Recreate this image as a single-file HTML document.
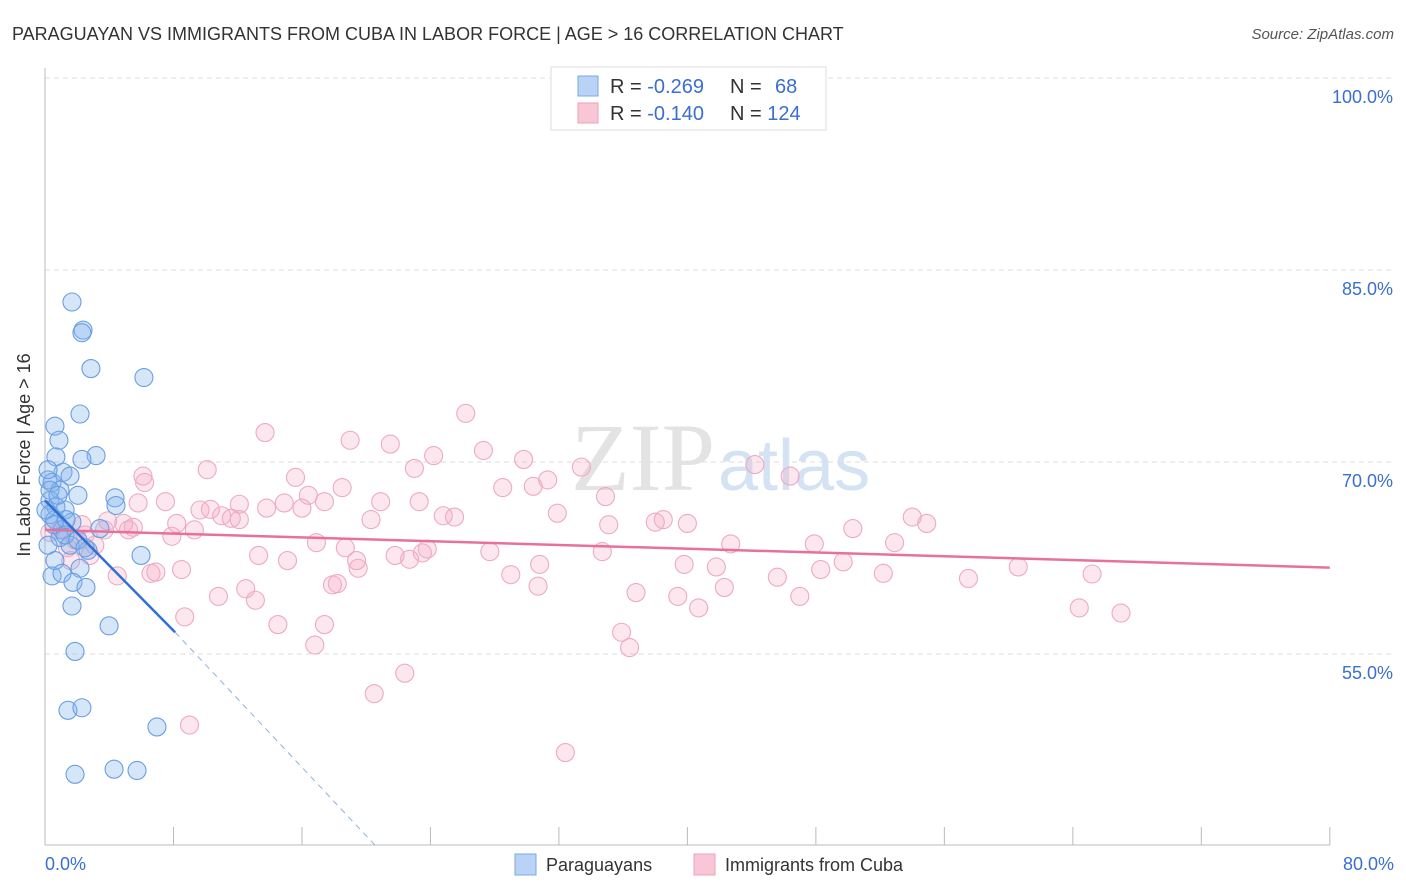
<!DOCTYPE html>
<html><head><meta charset="utf-8"><style>
body{margin:0;background:#fff;font-family:"Liberation Sans",sans-serif}
svg{display:block}
</style></head><body>
<svg width="1406" height="892" viewBox="0 0 1406 892" xmlns="http://www.w3.org/2000/svg">
<text x="12" y="40" font-size="18" fill="#333">PARAGUAYAN VS IMMIGRANTS FROM CUBA IN LABOR FORCE | AGE &gt; 16 CORRELATION CHART</text>
<text x="1394" y="39" font-size="15" fill="#555" font-style="italic" text-anchor="end">Source: ZipAtlas.com</text>
<g id="grid"></g>
<text x="715" y="490" font-size="96" fill="#e3e3e3" text-anchor="end" font-family="Liberation Serif,serif">ZIP</text>
<text x="718" y="490" font-size="72" fill="#d3e3f3">atlas</text>
<g id="axes"></g>
<g id="pink"></g>
<g id="blue"></g>
<g id="lines"></g>
<text x="30" y="455" font-size="18" fill="#333" text-anchor="middle" transform="rotate(-90 30 455)">In Labor Force | Age &gt; 16</text>
<text x="45" y="870" font-size="18" fill="#3a6fd0">0.0%</text>
<text x="1394" y="870" font-size="18" fill="#3a6fd0" text-anchor="end">80.0%</text>
<g>
<rect x="551" y="67" width="275" height="63" fill="#fff" stroke="#ddd"/>
<rect x="578" y="76" width="20" height="20" fill="#b8d3f5" stroke="#7aa8e8"/>
<rect x="578" y="103" width="20" height="20" fill="#f8c6d5" stroke="#eea2b9"/>
<text x="610" y="93" font-size="20" fill="#333">R = <tspan fill="#3a6fd0">-0.269</tspan></text>
<text x="730" y="93" font-size="20" fill="#333">N = <tspan fill="#3a6fd0" x="775">68</tspan></text>
<text x="610" y="120" font-size="20" fill="#333">R = <tspan fill="#3a6fd0">-0.140</tspan></text>
<text x="730" y="120" font-size="20" fill="#333">N = <tspan fill="#3a6fd0">124</tspan></text>
</g>
<g>
<rect x="515" y="854" width="21" height="21" fill="#b8d3f5" stroke="#7aa8e8"/>
<text x="546" y="871" font-size="18" fill="#333">Paraguayans</text>
<rect x="694" y="854" width="21" height="21" fill="#f8c6d5" stroke="#eea2b9"/>
<text x="725" y="871" font-size="18" fill="#333">Immigrants from Cuba</text>
</g>
</svg>
<script>
const yTicks=[100,85,70,55];
const yTickLabels=["100.0%","85.0%","70.0%","55.0%"];
const xTicks=[0,8,16,24,32,40,48,56,64,72,80];
const blueX=[1.68,2.37,2.30,2.86,6.16,2.18,0.62,0.87,3.18,2.30,0.68,1.12,1.56,0.19,0.44,0.93,2.05,4.36,4.42,0.31,0.68,1.25,0.31,1.68,0.62,1.06,3.42,0.93,1.56,2.68,5.98,0.62,2.18,0.44,1.06,1.74,2.55,1.68,3.99,1.87,6.97,1.43,2.30,1.87,4.30,5.73,0.19,0.31,0.81,0.06,0.56,1.25,2.05,0.19,2.49,1.31];
const blueY=[82.5,80.3,80.1,77.3,76.6,73.75,72.8,71.7,70.5,70.2,70.4,69.2,68.9,68.6,68.4,67.8,67.4,67.2,66.6,67.0,66.5,66.25,65.9,65.3,65.5,64.7,64.8,64.1,63.5,63.1,62.7,62.3,61.7,61.1,61.3,60.6,60.2,58.75,57.2,55.2,49.3,50.6,50.8,45.6,46.0,45.9,69.4,67.8,67.4,66.25,65.1,64.3,63.9,63.5,63.3,65.5];
const pinkX=[26.2,13.7,19.0,21.5,24.2,27.3,29.8,10.1,15.6,23.0,33.4,44.2,46.4,6.1,6.2,18.5,28.5,30.4,31.3,16.4,17.4,20.9,23.3,34.9,5.8,7.5,9.65,10.3,12.1,13.8,14.9,16.0,11.0,11.6,12.1,20.3,24.8,25.5,31.9,35.1,38.0,38.5,40.0,54.0,54.9,50.3,8.2,9.3,4.9,5.2,3.9,5.5,3.7,7.9,16.9,18.7,23.8,27.7,34.7,42.7,47.9,52.9,13.3,15.1,19.4,21.8,22.7,23.5,30.8,39.8,41.8,45.6,48.3,49.7,52.2,57.5,60.6,65.2,6.6,6.9,8.5,4.5,19.5,29.0,30.7,10.8,12.5,13.1,17.9,18.2,36.8,39.4,42.3,47.0,40.7,14.5,17.4,8.7,35.9,36.4,16.8,22.4,20.5,9.0,32.4,64.4,67.0,0.9,1.4,1.9,2.3,2.8,3.1,1.6,2.5,0.3];
const pinkY=[73.8,72.3,71.7,71.4,70.5,70.9,70.2,69.4,68.8,69.5,69.6,69.8,68.9,68.9,68.4,68.0,68.0,68.1,68.6,67.4,66.9,66.9,66.9,67.3,66.8,66.9,66.25,66.3,66.7,66.4,66.8,66.4,65.8,65.6,65.5,65.5,65.8,65.7,66.0,65.1,65.3,65.5,65.2,65.7,65.2,64.8,65.2,64.7,65.2,64.7,65.4,64.9,64.7,64.2,63.7,63.3,63.2,63.0,63.0,63.6,63.6,63.7,62.7,62.3,62.3,62.7,62.4,62.9,62.0,62.0,61.8,61.0,61.6,62.2,61.3,60.9,61.8,61.25,61.3,61.4,61.6,61.1,61.7,61.2,60.3,59.5,60.1,59.2,60.4,60.5,59.8,59.5,60.2,59.5,58.6,57.3,57.3,57.9,56.7,55.5,55.7,53.5,51.9,49.45,47.3,58.6,58.2,64.7,63.3,63.9,65.1,62.7,63.5,62.3,64.3,64.5];
const blueTrend=[[0,67.0],[8.1,56.7],[20.6,40]];
const pinkTrend=[[0,64.7],[80,61.75]];
const X=v=>45+v*16.06, Y=v=>78+(100-v)*12.8;
const NS="http://www.w3.org/2000/svg";
function mk(t,a,p){const e=document.createElementNS(NS,t);for(const k in a)e.setAttribute(k,a[k]);p.appendChild(e);return e;}
const grid=document.getElementById('grid'),axes=document.getElementById('axes');
yTicks.forEach((v,i)=>{
 const l=mk('line',{x1:45,x2:1394,y1:Y(v),y2:Y(v),stroke:'#ddd','stroke-dasharray':'5,4'},grid);
 
 
 const t=mk('text',{x:1393,y:Y(v)+25,'font-size':18,fill:'#3a6fd0','text-anchor':'end'},grid);
 t.textContent=yTickLabels[i];
 
 
});
let a=mk('line',{x1:45,x2:45,y1:68,y2:845,stroke:'#bbb'},axes);


a=mk('line',{x1:45,x2:1330,y1:845,y2:845,stroke:'#bbb'},axes);


xTicks.forEach(v=>{
 const t=mk('line',{x1:X(v),x2:X(v),y1:827,y2:845,stroke:'#bbb'},axes);
 
 
});
function pts(xs,ys,g,fill,stroke,name){
 xs.forEach((x,i)=>{
  const c=mk('circle',{cx:X(x),cy:Y(ys[i]),r:9,fill:fill,stroke:stroke,'stroke-width':1.1},g);
  
  
 });
}
pts(pinkX,pinkY,document.getElementById('pink'),'rgba(244,170,196,0.28)','#eeaac0','cuba-point');
pts(blueX,blueY,document.getElementById('blue'),'rgba(130,178,238,0.33)','#6a9ee2','paraguayan-point');
const L=document.getElementById('lines');
let ln=mk('line',{x1:X(pinkTrend[0][0]),y1:Y(pinkTrend[0][1]),x2:X(pinkTrend[1][0]),y2:Y(pinkTrend[1][1]),stroke:'#e8709a','stroke-width':2.5},L);


ln=mk('line',{x1:X(blueTrend[0][0]),y1:Y(blueTrend[0][1]),x2:X(blueTrend[1][0]),y2:Y(blueTrend[1][1]),stroke:'#2f6fd6','stroke-width':2.5},L);


ln=mk('line',{x1:X(blueTrend[1][0]),y1:Y(blueTrend[1][1]),x2:X(blueTrend[2][0]),y2:Y(blueTrend[2][1]),stroke:'#8fb0dd','stroke-width':1,'stroke-dasharray':'6,5'},L);


</script>
</body></html>
